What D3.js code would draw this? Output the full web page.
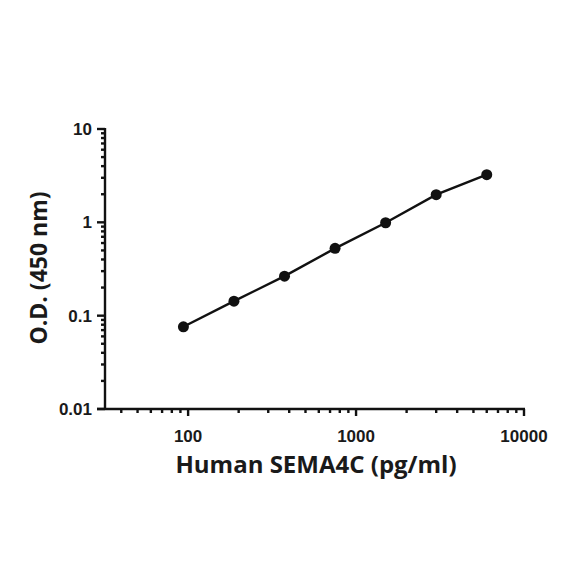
<!DOCTYPE html>
<html>
<head>
<meta charset="utf-8">
<script src="https://cdn.jsdelivr.net/npm/d3@7"></script>
<style>
    body { margin: 0; background: #fff; }
    svg text { font-weight: bold; fill: #1a1a1a; }
    .tick-label { font-family: "Liberation Sans", Arial, sans-serif; }
    .title { font-family: "Open Sans", "DejaVu Sans", sans-serif; }
</style>
</head>
<body>
<svg id="chart" width="584" height="584"></svg>
<script>
// standard curve: concentration (pg/ml) vs O.D. at 450 nm
let concentrations = [93.75, 187.5, 375, 750, 1500, 3000, 6000];
let odValues = [0.076, 0.143, 0.265, 0.526, 0.99, 1.98, 3.24];

let xTickValues = [100, 1000, 10000];
let yTickValues = [0.01, 0.1, 1, 10];
let xTickLabels = ['100', '1000', '10000'];
let yTickLabels = ['0.01', '0.1', '1', '10'];

let svg = d3.select('svg#chart');

// Scales, fitted to the plot frame of the reference
let x = d3.scaleLog().domain([32, 10000]).range([105, 524]);
let y = d3.scaleLog().domain([0.01, 10]).range([409, 129]);

// minor ticks: 2..9 within each decade
function minorTicks(scale) {
    let dom = scale.domain();
    let out = [];
    for (let e = Math.floor(Math.log10(dom[0])); e < Math.ceil(Math.log10(dom[1])); e++) {
        for (let m = 2; m <= 9; m++) {
            let v = m * Math.pow(10, e);
            if (v >= dom[0] && v <= dom[1]) out.push(v);
        }
    }
    return out;
}

let axes = svg.append('g').attr('stroke', '#111').attr('stroke-width', 2.4);

// y axis line and ticks
axes.append('line').attr('x1', 105).attr('x2', 105).attr('y1', y(10) - 1).attr('y2', y(0.01) + 1);
axes.selectAll('.ymajor').data(yTickValues).enter().append('line')
    .attr('x1', 97).attr('x2', 105)
    .attr('y1', d => y(d)).attr('y2', d => y(d));
axes.selectAll('.yminor').data(minorTicks(y)).enter().append('line')
    .attr('x1', 101).attr('x2', 105)
    .attr('y1', d => y(d)).attr('y2', d => y(d));

// x axis line and ticks
axes.append('line').attr('x1', 97).attr('x2', x(10000) + 1).attr('y1', 409).attr('y2', 409);
axes.selectAll('.xmajor').data(xTickValues).enter().append('line')
    .attr('x1', d => x(d)).attr('x2', d => x(d))
    .attr('y1', 409).attr('y2', 416);
axes.selectAll('.xminor').data(minorTicks(x)).enter().append('line')
    .attr('x1', d => x(d)).attr('x2', d => x(d))
    .attr('y1', 409).attr('y2', 413);

// tick labels
svg.selectAll('.ylab').data(yTickValues).enter().append('text')
    .attr('class', 'tick-label')
    .attr('x', 92).attr('y', d => y(d) + 6)
    .attr('text-anchor', 'end').attr('font-size', 17)
    .text((d, i) => yTickLabels[i]);
svg.selectAll('.xlab').data(xTickValues).enter().append('text')
    .attr('class', 'tick-label')
    .attr('x', d => x(d)).attr('y', 442)
    .attr('text-anchor', 'middle').attr('font-size', 17)
    .text((d, i) => xTickLabels[i]);

// axis titles
svg.append('text')
    .attr('class', 'title')
    .attr('x', 316).attr('y', 473)
    .attr('text-anchor', 'middle').attr('font-size', 24)
    .text('Human SEMA4C (pg/ml)');
svg.append('text')
    .attr('class', 'title')
    .attr('transform', 'translate(47,268) rotate(-90)')
    .attr('text-anchor', 'middle').attr('font-size', 23)
    .text('O.D. (450 nm)');

// curve and points
let pts = concentrations.map((c, i) => [c, odValues[i]]);
svg.append('path')
    .datum(pts)
    .attr('fill', 'none').attr('stroke', '#111').attr('stroke-width', 2.4)
    .attr('d', d3.line().x(d => x(d[0])).y(d => y(d[1])));
svg.selectAll('circle').data(pts).enter().append('circle')
    .attr('cx', d => x(d[0])).attr('cy', d => y(d[1]))
    .attr('r', 5.5).attr('fill', '#111');
</script>
</body>
</html>
